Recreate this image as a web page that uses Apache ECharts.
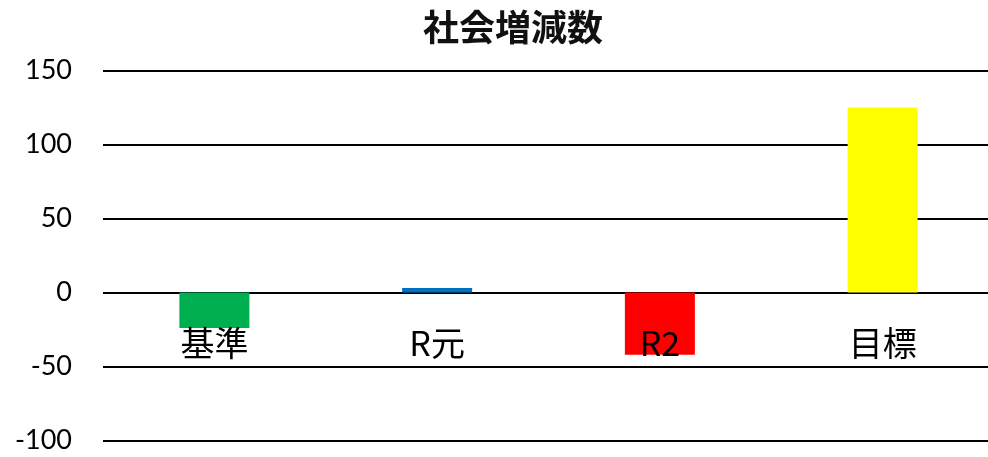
<!DOCTYPE html>
<html>
<head>
<meta charset="utf-8">
<script src="https://cdn.jsdelivr.net/npm/echarts@6/dist/echarts.min.js"></script>
<style>html,body{margin:0;padding:0;background:#fff}#c{width:988px;height:457px}</style>
</head>
<body>
<div id="c"></div>
<script>
const categories = ['基準', 'R元', 'R2', '目標'];
const values = [-24, 3, -42, 125];
const barColors = ['#00B050', '#0070C0', '#FF0000', '#FFFF00'];
const yTicks = { min: -100, max: 150, interval: 50 };
const title = '社会増減数';

const chart = echarts.init(document.getElementById('c'), null, { renderer: 'canvas' });
chart.setOption({
  animation: false,
  backgroundColor: '#fff',
  title: {
    text: title,
    left: 508, top: 4, textAlign: 'center',
    textStyle: { fontFamily: '"Noto Sans CJK JP"', fontSize: 36, fontWeight: 'bold', color: '#111' }
  },
  grid: { left: 103, width: 891, top: 70.5, bottom: 16.5, containLabel: false, outerBoundsMode: 'none' },
  xAxis: {
    type: 'category',
    data: categories,
    position: 'bottom',
    offset: -148,
    z: 10,
    axisLine: { show: false, onZero: false },
    axisTick: { show: false },
    axisLabel: {
      show: true,
      margin: 34,
      fontFamily: '"Noto Sans CJK JP"', fontSize: 34, color: '#000'
    }
  },
  yAxis: {
    type: 'value',
    min: yTicks.min, max: yTicks.max, interval: yTicks.interval,
    axisLine: { show: false },
    axisTick: { show: false },
    axisLabel: { margin: 31, fontFamily: 'Lato, "Noto Sans CJK JP"', fontSize: 27, color: '#000' },
    splitLine: { lineStyle: { color: '#000', width: 2 } }
  },
  series: [{
    type: 'bar',
    barWidth: 70,
    data: values.map((v, i) => ({ value: v, itemStyle: { color: barColors[i] } }))
  }]
});
</script>
</body>
</html>
